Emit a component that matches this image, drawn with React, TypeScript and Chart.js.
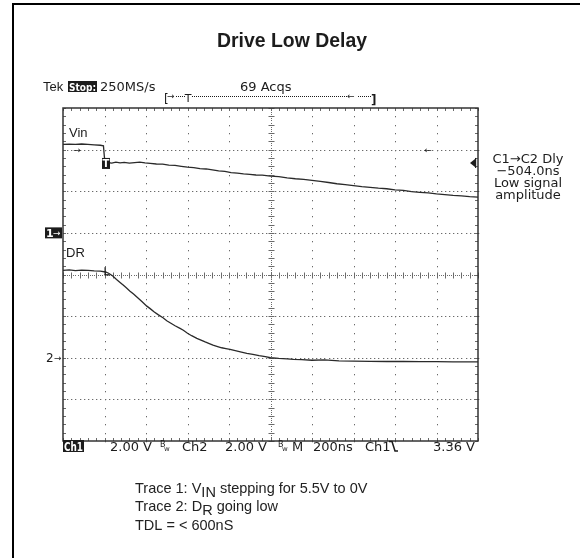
import { useEffect, useRef } from "react";
import { Chart, registerables } from "chart.js";

Chart.register(...registerables);

// ---- data (time in ns, amplitude in volts) ----
const VIN_TIME_NS = [0, 30, 60, 90, 120, 150, 180, 195, 199, 203, 215, 235, 255, 275, 295, 320, 345, 370, 395, 420, 450, 480, 510, 540, 570, 600, 630, 660, 690, 720, 750, 780, 810, 840, 870, 900, 930, 960, 1000, 1040, 1080, 1120, 1160, 1200, 1240, 1280, 1320, 1360, 1400, 1440, 1480, 1520, 1560, 1600, 1640, 1680, 1720, 1760, 1800, 1840, 1880, 1920, 1960, 2000];
const VIN_VOLTS = [4.25, 4.26, 4.25, 4.27, 4.25, 4.23, 4.21, 4.18, 3.7, 3.33, 3.38, 3.35, 3.4, 3.36, 3.39, 3.35, 3.38, 3.4, 3.36, 3.34, 3.31, 3.3, 3.26, 3.24, 3.2, 3.16, 3.14, 3.09, 3.07, 3.03, 2.98, 2.95, 2.89, 2.87, 2.83, 2.81, 2.78, 2.77, 2.73, 2.7, 2.64, 2.6, 2.57, 2.52, 2.47, 2.42, 2.36, 2.32, 2.27, 2.22, 2.19, 2.15, 2.12, 2.07, 2.04, 1.98, 1.95, 1.92, 1.87, 1.84, 1.8, 1.78, 1.74, 1.72];

const DR_TIME_NS = [0, 30, 60, 90, 120, 150, 180, 205, 220, 240, 258, 275, 290, 305, 323, 340, 360, 380, 404, 420, 440, 460, 482, 500, 520, 540, 564, 580, 600, 620, 645, 665, 685, 705, 723, 745, 765, 785, 805, 830, 860, 886, 915, 945, 975, 1000, 1040, 1080, 1111, 1150, 1200, 1260, 1330, 1400, 1480, 1560, 1640, 1720, 1800, 1880, 1960, 2000];
const DR_VOLTS = [4.2, 4.22, 4.19, 4.21, 4.2, 4.17, 4.16, 4.12, 4.06, 3.93, 3.76, 3.62, 3.49, 3.36, 3.2, 3.06, 2.88, 2.7, 2.48, 2.36, 2.2, 2.06, 1.92, 1.78, 1.66, 1.54, 1.41, 1.32, 1.18, 1.06, 0.93, 0.85, 0.76, 0.68, 0.61, 0.54, 0.48, 0.44, 0.4, 0.34, 0.27, 0.21, 0.16, 0.1, 0.05, 0.0, -0.03, -0.05, -0.08, -0.09, -0.12, -0.1, -0.15, -0.16, -0.17, -0.18, -0.18, -0.19, -0.19, -0.2, -0.2, -0.2];

// ---- scope settings ----
const X_MIN_NS = 0;
const X_MAX_NS = 2000;
const X_DIV_NS = 200;
const Y_MIN_DIV = -4;
const Y_MAX_DIV = 4;
const VOLTS_PER_DIV = 2;
const CH1_OFFSET_DIV = 1;
const CH2_OFFSET_DIV = -2;
const TRIGGER_NS = 200;
const TRIGGER_LEVEL_V = 3.36;

// ---- texts ----
const TITLE = "Drive Low Delay";
const HEADER_TEK = "Tek";
const HEADER_STOP = "Stop:";
const HEADER_RATE = "250MS/s";
const HEADER_ACQS = "69 Acqs";
const RIGHT_LABELS = ["C1\u2192C2 Dly", "\u2212504.0ns", "Low signal", "amplitude"];
const STATUS_CH1 = "Ch1";
const STATUS_ITEMS: [string, number][] = [
  ["2.00 V", 110],
  ["Ch2", 182],
  ["2.00 V", 225],
  ["M", 292],
  ["200ns", 313],
  ["Ch1", 365],
];
const STATUS_TRIG = "3.36 V";
const CAPTION_1 = ["Trace 1: V", "IN", " stepping for 5.5V to 0V"];
const CAPTION_2 = ["Trace 2: D", "R", " going low"];
const CAPTION_3 = "TDL = < 600nS";
const LABEL_VIN = "Vin";
const LABEL_DR = "DR";

const INK = "#1c1c1c";
const GRID = "#6a6a6a";
const SCOPE_FONT = '"DejaVu Sans", sans-serif';
const SANS = '"Liberation Sans", Arial, sans-serif';

const scopePlugin = {
  id: "scopePlugin",
  beforeDatasetsDraw(chart: any) {
    const { ctx, chartArea, scales } = chart;
    const xs = scales.x;
    const ys = scales.y;
    const { left, right, top, bottom } = chartArea;
    const xCenter = (X_MIN_NS + X_MAX_NS) / 2;
    const minorX = X_DIV_NS / 5;
    ctx.save();
    ctx.fillStyle = GRID;
    // vertical dotted grid lines
    for (let t = X_MIN_NS + X_DIV_NS; t < X_MAX_NS - 1; t += X_DIV_NS) {
      if (Math.abs(t - xCenter) < 1) continue;
      const px = Math.round(xs.getPixelForValue(t));
      for (let d = Y_MIN_DIV; d <= Y_MAX_DIV + 1e-6; d += 0.2) {
        ctx.fillRect(px, Math.round(ys.getPixelForValue(d)), 1, 1.3);
      }
    }
    // horizontal dotted grid lines
    for (let d = Y_MIN_DIV + 1; d < Y_MAX_DIV; d += 1) {
      if (d === 0) continue;
      const py = Math.round(ys.getPixelForValue(d));
      for (let t = X_MIN_NS; t <= X_MAX_NS; t += X_DIV_NS / 10) {
        ctx.fillRect(Math.round(xs.getPixelForValue(t)), py, 1.3, 1);
      }
    }
    // center lines with ticks
    ctx.strokeStyle = GRID;
    ctx.lineWidth = 1;
    const cx = Math.round(xs.getPixelForValue(xCenter)) + 0.5;
    const cy = Math.round(ys.getPixelForValue(0)) + 0.5;
    for (let d = Y_MIN_DIV; d <= Y_MAX_DIV + 1e-6; d += 0.05) {
      ctx.fillRect(cx - 0.5, Math.round(ys.getPixelForValue(d)), 1, 1);
    }
    for (let t = X_MIN_NS; t <= X_MAX_NS; t += X_DIV_NS / 20) {
      ctx.fillRect(Math.round(xs.getPixelForValue(t)), cy - 0.5, 1, 1);
    }
    ctx.beginPath();
    for (let d = Y_MIN_DIV; d <= Y_MAX_DIV + 1e-6; d += 0.2) {
      const py = Math.round(ys.getPixelForValue(d)) + 0.5;
      ctx.moveTo(cx - 3, py);
      ctx.lineTo(cx + 3, py);
      // edge ticks left/right
      ctx.moveTo(left, py);
      ctx.lineTo(left + 3, py);
      ctx.moveTo(right - 3, py);
      ctx.lineTo(right, py);
    }
    for (let t = X_MIN_NS; t <= X_MAX_NS; t += minorX) {
      const px = Math.round(xs.getPixelForValue(t)) + 0.5;
      ctx.moveTo(px, cy - 3);
      ctx.lineTo(px, cy + 3);
      ctx.moveTo(px, top);
      ctx.lineTo(px, top + 3);
      ctx.moveTo(px, bottom - 3);
      ctx.lineTo(px, bottom);
    }
    ctx.stroke();
    // border
    ctx.strokeStyle = "#333";
    ctx.lineWidth = 1.5;
    ctx.strokeRect(left, top, right - left, bottom - top);
    ctx.restore();
  },
  afterDatasetsDraw(chart: any) {
    const { ctx, chartArea, scales } = chart;
    const xs = scales.x;
    const ys = scales.y;
    const { left, right } = chartArea;
    ctx.save();
    // figure frame
    ctx.fillStyle = "#000";
    ctx.fillRect(12, 3, 568, 2);
    ctx.fillRect(12, 3, 2, 555);

    ctx.fillStyle = INK;
    ctx.textBaseline = "alphabetic";
    // title
    ctx.font = `bold 21px ${SANS}`;
    ctx.textAlign = "center";
    ctx.fillText(TITLE, 292, 47, 150);

    // header
    ctx.textAlign = "left";
    ctx.font = `13px ${SANS}`;
    ctx.fillText(HEADER_TEK, 43, 91);
    ctx.fillRect(68, 81, 29, 11);
    ctx.fillStyle = "#fff";
    ctx.font = `bold 11px ${SCOPE_FONT}`;
    ctx.textAlign = "center";
    ctx.fillText(HEADER_STOP, 82.5, 90.5, 27);
    ctx.fillStyle = INK;
    ctx.textAlign = "left";
    ctx.font = `13px ${SCOPE_FONT}`;
    ctx.fillText(HEADER_RATE, 100, 91);
    ctx.fillText(HEADER_ACQS, 240, 91);

    // record bar
    ctx.font = `12px ${SCOPE_FONT}`;
    ctx.fillText("[", 164, 103);
    ctx.font = `bold 12px ${SCOPE_FONT}`;
    ctx.fillText("]", 371, 104);
    ctx.font = `9px ${SCOPE_FONT}`;
    ctx.fillText("\u2192", 167, 99);
    ctx.fillText("\u2190", 347, 99);
    ctx.font = `11px ${SCOPE_FONT}`;
    ctx.textAlign = "center";
    ctx.fillText("T", 188, 102);
    ctx.textAlign = "left";
    for (let px = 176; px < 372; px += 2) {
      if (px > 184 && px < 192) continue;
      if (px > 346 && px < 357) continue;
      ctx.fillRect(px, 96, 1, 1);
    }

    // channel ground markers
    const y1 = ys.getPixelForValue(CH1_OFFSET_DIV);
    const y2 = ys.getPixelForValue(CH2_OFFSET_DIV);
    ctx.fillRect(left - 18, y1 - 5.5, 17, 11);
    ctx.fillStyle = "#fff";
    ctx.font = `bold 11px ${SCOPE_FONT}`;
    ctx.fillText("1", left - 17, y1 + 4);
    ctx.font = `9px ${SCOPE_FONT}`;
    ctx.fillText("\u2192", left - 10, y1 + 3);
    ctx.fillStyle = INK;
    ctx.font = `12px ${SCOPE_FONT}`;
    ctx.fillText("2", left - 17, y2 + 4.5);
    ctx.font = `9px ${SCOPE_FONT}`;
    ctx.fillText("\u2192", left - 9, y2 + 3);

    // trigger marker on Vin
    const tx = xs.getPixelForValue(TRIGGER_NS);
    const ty = ys.getPixelForValue(CH1_OFFSET_DIV + TRIGGER_LEVEL_V / VOLTS_PER_DIV);
    ctx.fillRect(tx - 2.5, ty - 5, 8, 11);
    ctx.fillStyle = "#fff";
    ctx.font = `bold 10px ${SCOPE_FONT}`;
    ctx.textAlign = "center";
    ctx.fillText("T", tx + 1.5, ty + 4);
    ctx.fillStyle = INK;
    // trigger level arrow at right edge
    ctx.beginPath();
    ctx.moveTo(right - 8, ty);
    ctx.lineTo(right - 3, ty - 4);
    ctx.lineTo(right - 3, ty + 4);
    ctx.closePath();
    ctx.fill();
    ctx.fillRect(right - 3, ty - 5, 1.2, 10);

    // DR trigger mark
    const ty2 = ys.getPixelForValue(CH2_OFFSET_DIV + DR_VOLTS[6] / VOLTS_PER_DIV);
    ctx.fillRect(tx, ty2 - 4, 1.3, 8);
    ctx.fillRect(tx, ty2 + 3, 5, 1.3);

    // cursor arrows
    const yc = ys.getPixelForValue(3);
    ctx.font = `9px ${SCOPE_FONT}`;
    ctx.fillText("\u2192", 77, yc + 3);
    ctx.fillText("\u2190", 428, yc + 3);

    // trace labels
    ctx.textAlign = "left";
    ctx.font = `13px ${SANS}`;
    ctx.fillText(LABEL_VIN, 69, 137);
    ctx.fillText(LABEL_DR, 66, 257);

    // right labels
    ctx.font = `13px ${SCOPE_FONT}`;
    ctx.textAlign = "center";
    RIGHT_LABELS.forEach((s, i) => ctx.fillText(s, 528, 162.5 + i * 12, 72));

    // status bar
    ctx.textAlign = "left";
    ctx.fillRect(63, 440, 21, 12);
    ctx.fillStyle = "#fff";
    ctx.font = `bold 12px ${SCOPE_FONT}`;
    ctx.fillText(STATUS_CH1, 64, 450.5, 19);
    ctx.fillStyle = INK;
    ctx.font = `13px ${SCOPE_FONT}`;
    STATUS_ITEMS.forEach(([s, x]) => ctx.fillText(s, x, 451));
    ctx.textAlign = "right";
    ctx.fillText(STATUS_TRIG, 475, 451);
    ctx.textAlign = "left";
    // bandwidth symbols
    [160, 278].forEach((bx) => {
      ctx.font = `8px ${SCOPE_FONT}`;
      ctx.fillText("B", bx, 447);
      ctx.font = `7px ${SCOPE_FONT}`;
      ctx.fillText("w", bx + 4, 451);
    });
    // falling slope symbol
    ctx.strokeStyle = INK;
    ctx.lineWidth = 1.5;
    ctx.beginPath();
    ctx.moveTo(389, 441.5);
    ctx.lineTo(392, 441.5);
    ctx.lineTo(395, 451);
    ctx.lineTo(398, 451);
    ctx.stroke();

    // caption
    ctx.fillStyle = "#222";
    const capFont = `14.5px ${SANS}`;
    const drawRuns = (runs: string[], x: number, y: number) => {
      let cxp = x;
      runs.forEach((r, i) => {
        ctx.font = capFont;
        const dy = i === 1 ? 4 : 0;
        ctx.fillText(r, cxp, y + dy);
        cxp += ctx.measureText(r).width;
      });
    };
    drawRuns(CAPTION_1, 135, 493);
    drawRuns(CAPTION_2, 135, 511);
    ctx.font = capFont;
    ctx.fillText(CAPTION_3, 135, 530);
    ctx.restore();
  },
};

export default function App() {
  const ref = useRef<HTMLCanvasElement | null>(null);
  useEffect(() => {
    if (!ref.current) return;
    const toPoints = (ts: number[], vs: number[], off: number) =>
      ts.map((t, i) => ({ x: t, y: off + vs[i] / VOLTS_PER_DIV }));
    const chart = new Chart(ref.current, {
      type: "line",
      data: {
        datasets: [
          {
            label: "Vin",
            data: toPoints(VIN_TIME_NS, VIN_VOLTS, CH1_OFFSET_DIV),
            borderColor: "#2a2a2a",
            borderWidth: 1.3,
            pointRadius: 0,
            tension: 0,
          },
          {
            label: "DR",
            data: toPoints(DR_TIME_NS, DR_VOLTS, CH2_OFFSET_DIV),
            borderColor: "#2a2a2a",
            borderWidth: 1.3,
            pointRadius: 0,
            tension: 0,
          },
        ],
      },
      options: {
        animation: false,
        responsive: false,
        maintainAspectRatio: false,
        events: [],
        layout: { padding: { left: 63, right: 102, top: 108, bottom: 117 } },
        plugins: { legend: { display: false }, tooltip: { enabled: false }, title: { display: false } },
        scales: {
          x: { type: "linear", min: X_MIN_NS, max: X_MAX_NS, display: false },
          y: { type: "linear", min: Y_MIN_DIV, max: Y_MAX_DIV, display: false },
        },
      },
      plugins: [scopePlugin],
    });
    return () => chart.destroy();
  }, []);
  return (
    <div style={{ position: "absolute", left: 0, top: 0, width: 580, height: 558, background: "#fff" }}>
      <canvas ref={ref} width={580} height={558} style={{ display: "block", width: 580, height: 558 }} />
    </div>
  );
}
